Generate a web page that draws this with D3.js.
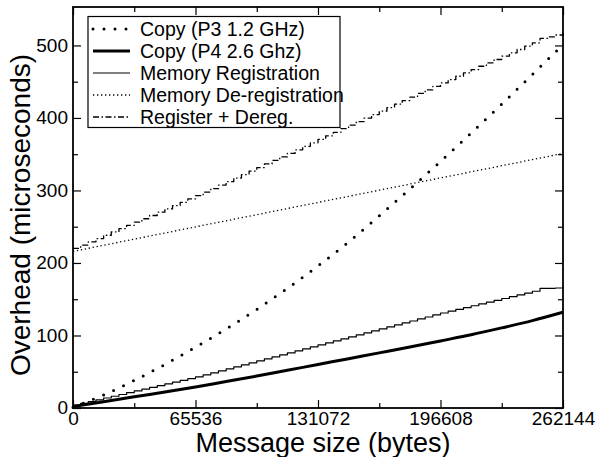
<!DOCTYPE html>
<html>
<head>
<meta charset="utf-8">
<script src="https://cdn.jsdelivr.net/npm/d3@7"></script>
<style>
  html, body { margin: 0; padding: 0; background: #fff; }
  svg { display: block; }
  text { font-family: "Liberation Sans", Arial, Helvetica, sans-serif; fill: #000; }
</style>
</head>
<body>
<svg id="chart" width="595" height="457"></svg>
<script>
// Message sizes (bytes) for the smooth series: every 16 KiB
const sizesCoarse = [0, 16384, 32768, 49152, 65536, 81920, 98304, 114688, 131072,
  147456, 163840, 180224, 196608, 212992, 229376, 245760, 262144];

// Copy cost on the P3 1.2 GHz machine (microseconds)
const copyP3 = [1, 18, 38, 60, 84, 109, 136, 165, 196, 229, 265, 302, 340, 379, 419, 460, 501];

// Copy cost on the P4 2.6 GHz machine (microseconds)
const copyP4 = [2, 8.5, 15.5, 22, 29, 36.5, 44, 52, 60, 68, 76, 84, 92.5, 101, 110.5, 120.5, 132];

// Memory de-registration cost (microseconds)
const dereg = [216, 224.4, 232.9, 241.3, 249.8, 258.2, 266.6, 275.1, 283.5, 291.9,
  300.4, 308.8, 317.3, 325.7, 334.1, 342.6, 351];

// Registration is measured per 4 KiB page
const sizesPage = d3.range(0, 262144 + 1, 4096);

// Memory registration cost (microseconds)
const reg = [4, 6.4, 8.9, 11.3, 13.8, 16.2, 18.6, 21.1, 23.5, 26, 28.4, 30.8, 33.3, 35.7, 38.2, 40.6,
  43, 45.8, 48.5, 51.3, 54, 56.8, 59.5, 62.3, 65, 67.8, 70.5, 73.3, 76, 78.8, 81.5, 84.3,
  87, 89.8, 92.5, 95.3, 98, 100.8, 103.5, 106.3, 109, 111.8, 114.5, 117.3, 120, 122.8, 125.5, 128.3,
  131, 133.5, 136, 138.5, 141, 143.5, 146, 148.5, 151, 153.5, 156, 158.5, 161, 165, 165, 165.5, 168];

// Registration + de-registration cost (microseconds)
const regDereg = [220, 224.5, 229.1, 233.6, 238.2, 242.8, 247.3, 251.9, 256.4, 261, 265.5, 270, 274.6, 279.1, 283.7, 288.3,
  292.8, 297.7, 302.5, 307.4, 312.2, 317.1, 321.9, 326.8, 331.6, 336.6, 341.4, 346.3, 351.1, 356, 360.8, 365.7,
  370.5, 375.4, 380.2, 385.2, 390, 394.9, 399.7, 404.6, 409.4, 414.3, 419.1, 424, 428.8, 433.8, 438.6, 443.5,
  448.3, 452.9, 457.5, 462.1, 466.7, 471.3, 475.9, 480.6, 485.2, 489.8, 494.4, 499, 503.6, 509.7, 511.8, 514.4, 519];

const xTicks = [0, 65536, 131072, 196608, 262144];
const xMinorTicks = [32768, 98304, 163840, 229376];
const yTicks = [0, 100, 200, 300, 400, 500];
const yMinorTicks = [50, 150, 250, 350, 450];

const legendLabels = ["Copy (P3 1.2 GHz)", "Copy (P4 2.6 Ghz)", "Memory Registration",
  "Memory De-registration", "Register + Dereg."];

const margin = { left: 73, right: 32, top: 7, bottom: 49 };
const W = 595, H = 457;
const svg = d3.select("#chart");

const x = d3.scaleLinear().domain([0, 262144]).range([margin.left, W - margin.right]);
const y = d3.scaleLinear().domain([0, 553]).range([H - margin.bottom, margin.top]);

const styles = [
  { width: 3, dash: "0,11", cap: "round" },
  { width: 3, dash: null, cap: "butt" },
  { width: 1.2, dash: null, cap: "butt" },
  { width: 1.3, dash: "1.3,2.7", cap: "butt" },
  { width: 1.3, dash: "6,2.5,1.5,2.5", cap: "butt" }
];

const series = [
  { xs: sizesCoarse, ys: copyP3, curve: d3.curveMonotoneX },
  { xs: sizesCoarse, ys: copyP4, curve: d3.curveMonotoneX },
  { xs: sizesPage, ys: reg, curve: d3.curveStepAfter },
  { xs: sizesCoarse, ys: dereg, curve: d3.curveLinear },
  { xs: sizesPage, ys: regDereg, curve: d3.curveStepAfter }
];

const plot = svg.append("g");
series.forEach((s, i) => {
  const line = d3.line().x(d => x(d[0])).y(d => y(d[1])).curve(s.curve);
  const st = styles[i];
  plot.append("path")
    .attr("d", line(s.xs.map((v, k) => [v, s.ys[k]])))
    .attr("fill", "none")
    .attr("stroke", "#000")
    .attr("stroke-width", st.width)
    .attr("stroke-linecap", st.cap)
    .attr("stroke-linejoin", "round")
    .attr("stroke-dasharray", st.dash);
});

// Axes with inward ticks on all four sides
const x0 = x.range()[0], x1 = x.range()[1];
const y0 = y.range()[0], y1 = y.range()[1];
const major = 8, minor = 5;

const bottomAxis = d3.axisBottom(x).tickValues(xTicks).tickSizeInner(-major).tickSizeOuter(0)
  .tickPadding(4).tickFormat(d3.format("d"));
const bottomMinor = d3.axisBottom(x).tickValues(xMinorTicks).tickSizeInner(-minor).tickSizeOuter(0).tickFormat("");
const topAxis = d3.axisTop(x).tickValues(xTicks).tickSizeInner(-major).tickSizeOuter(0).tickFormat("");
const topMinor = d3.axisTop(x).tickValues(xMinorTicks).tickSizeInner(-minor).tickSizeOuter(0).tickFormat("");
const leftAxis = d3.axisLeft(y).tickValues(yTicks).tickSizeInner(-major).tickSizeOuter(0).tickPadding(5);
const leftMinor = d3.axisLeft(y).tickValues(yMinorTicks).tickSizeInner(-minor).tickSizeOuter(0).tickFormat("");
const rightAxis = d3.axisRight(y).tickValues(yTicks).tickSizeInner(-major).tickSizeOuter(0).tickFormat("");
const rightMinor = d3.axisRight(y).tickValues(yMinorTicks).tickSizeInner(-minor).tickSizeOuter(0).tickFormat("");

function addAxis(axis, tx, ty) {
  const g = svg.append("g").attr("transform", `translate(${tx},${ty})`).call(axis);
  g.select(".domain").remove();
  g.selectAll(".tick line").attr("stroke", "#000").attr("stroke-width", 1.2);
  g.selectAll(".tick text").attr("font-size", 19).attr("fill", "#000")
    .attr("font-family", "'Liberation Sans', Arial, sans-serif");
  return g;
}
addAxis(bottomAxis, 0, y0);
addAxis(bottomMinor, 0, y0);
addAxis(topAxis, 0, y1);
addAxis(topMinor, 0, y1);
const gl = addAxis(leftAxis, x0, 0);
addAxis(leftMinor, x0, 0);
addAxis(rightAxis, x1, 0);
addAxis(rightMinor, x1, 0);
gl.selectAll(".tick text").attr("dy", "0.3em");

// Frame
svg.append("rect")
  .attr("x", x0).attr("y", y1).attr("width", x1 - x0).attr("height", y0 - y1)
  .attr("fill", "none").attr("stroke", "#000").attr("stroke-width", 1.8);

// Axis titles
svg.append("text")
  .attr("x", 323).attr("y", 452)
  .attr("text-anchor", "middle").attr("font-size", 27)
  .text("Message size (bytes)");
svg.append("text")
  .attr("transform", "translate(30,215) rotate(-90)")
  .attr("text-anchor", "middle").attr("font-size", 28)
  .text("Overhead (microseconds)");

// Legend
const lg = svg.append("g");
const lx = 88, ly = 16.5, lw = 252, lh = 111, rowH = 22;
lg.append("rect").attr("x", lx).attr("y", ly).attr("width", lw).attr("height", lh)
  .attr("fill", "#fff").attr("stroke", "#000").attr("stroke-width", 1.2);
legendLabels.forEach((label, i) => {
  const cy = ly + 12.5 + i * rowH;
  const st = styles[i];
  lg.append("line")
    .attr("x1", lx + 5).attr("x2", lx + 42).attr("y1", cy).attr("y2", cy)
    .attr("stroke", "#000").attr("stroke-width", st.width)
    .attr("stroke-linecap", st.cap).attr("stroke-dasharray", st.dash);
  lg.append("text")
    .attr("x", lx + 52).attr("y", cy).attr("dy", "0.36em")
    .attr("font-size", 19.5).text(label);
});
</script>
</body>
</html>
